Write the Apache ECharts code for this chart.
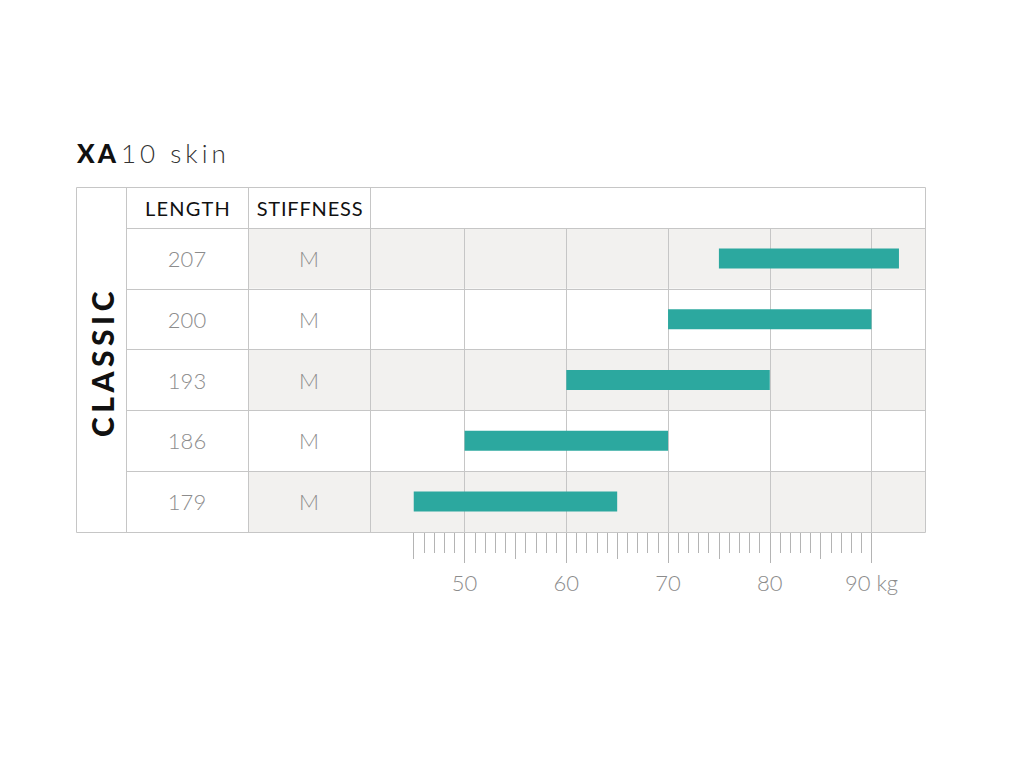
<!DOCTYPE html>
<html>
<head>
<meta charset="utf-8">
<script src="https://cdn.jsdelivr.net/npm/echarts@6/dist/echarts.min.js"></script>
<style>html,body{margin:0;padding:0;background:#fff}#c{width:1024px;height:768px}</style>
</head>
<body>
<div id="c"></div>
<script>
// ---- data ----
const lengths = ['207', '200', '193', '186', '179'];
const stiffness = ['M', 'M', 'M', 'M', 'M'];
const weightMin = [75, 70, 60, 50, 45];
const weightMax = [92.7, 90, 80, 70, 65];
const majorTicks = [50, 60, 70, 80, 90];
const midTicks = [45, 55, 65, 75, 85];
const minorTicks = [45,46,47,48,49,50,51,52,53,54,55,56,57,58,59,60,61,62,63,64,65,66,67,68,69,70,71,72,73,74,75,76,77,78,79,80,81,82,83,84,85,86,87,88,89,90];
const unit = 'kg';
const titleBold = 'XA';
const titleRest = '10 skin';
const groupName = 'CLASSIC';
const headers = ['LENGTH', 'STIFFNESS'];

const X_MIN = 40.7, X_MAX = 95.26;
const LINE = '#c6c6c6';
const SHADE = '#f2f1ef';
const FONT = 'Lato';

const chart = echarts.init(document.getElementById('c'), null, {renderer: 'svg'});

const gridTop = 228, gridBottom = 768 - 532;
const barData = lengths.map((l, i) => [weightMin[i], weightMax[i], i]);

function hiddenX(gi) {
  return {type: 'value', gridIndex: gi, show: false, min: 0, max: 1};
}
function sideY(gi, labels, shaded) {
  return {
    type: 'category', gridIndex: gi, data: lengths, inverse: true,
    axisLine: {show: true, lineStyle: {color: LINE}},
    axisTick: {show: false},
    axisLabel: {
      show: true, inside: true, margin: 61, align: 'center',
      formatter: (v, i) => labels[i],
      fontFamily: FONT, fontWeight: 300, fontSize: 22, color: '#8c8c8c'
    },
    splitLine: {show: true, lineStyle: {color: LINE}},
    splitArea: {show: shaded, areaStyle: {color: [SHADE, '#ffffff']}}
  };
}

const option = {
  animation: false,
  backgroundColor: '#ffffff',
  grid: [
    {left: 370, top: gridTop, width: 555, bottom: gridBottom, containLabel: false},
    {left: 248, top: gridTop, width: 122, bottom: gridBottom, containLabel: false},
    {left: 126, top: gridTop, width: 122, bottom: gridBottom, containLabel: false}
  ],
  xAxis: [
    {
      type: 'value', gridIndex: 0, min: X_MIN, max: X_MAX, position: 'bottom',
      axisLine: {show: false},
      axisTick: {show: true, customValues: majorTicks, length: 31, lineStyle: {color: '#b4b4b4'}},
      axisLabel: {
        show: true, customValues: majorTicks, margin: 39,
        formatter: v => (v === majorTicks[majorTicks.length - 1] ? v + ' ' + unit : String(v)),
        fontFamily: FONT, fontWeight: 300, fontSize: 22, color: '#8c8c8c'
      },
      splitLine: {show: true, lineStyle: {color: LINE}}
    },
    {
      type: 'value', gridIndex: 0, min: X_MIN, max: X_MAX, position: 'bottom',
      axisLine: {show: false},
      axisTick: {show: true, customValues: minorTicks, length: 21, lineStyle: {color: '#b4b4b4'}},
      axisLabel: {show: false}, splitLine: {show: false}
    },
    {
      type: 'value', gridIndex: 0, min: X_MIN, max: X_MAX, position: 'bottom',
      axisLine: {show: false},
      axisTick: {show: true, customValues: midTicks, length: 27, lineStyle: {color: '#b4b4b4'}},
      axisLabel: {show: false}, splitLine: {show: false}
    },
    hiddenX(1),
    hiddenX(2)
  ],
  yAxis: [
    {
      type: 'category', gridIndex: 0, data: lengths, inverse: true,
      axisLine: {show: true, lineStyle: {color: LINE}},
      axisTick: {show: false}, axisLabel: {show: false},
      splitLine: {show: true, lineStyle: {color: LINE}},
      splitArea: {show: true, areaStyle: {color: [SHADE, '#ffffff']}}
    },
    sideY(1, stiffness, true),
    sideY(2, lengths, false)
  ],
  series: [{
    type: 'custom', xAxisIndex: 0, yAxisIndex: 0, data: barData,
    renderItem: (params, api) => {
      const p0 = api.coord([api.value(0), api.value(2)]);
      const p1 = api.coord([api.value(1), api.value(2)]);
      const h = 20;
      return {
        type: 'rect',
        shape: {x: p0[0], y: p0[1] - h / 2, width: p1[0] - p0[0], height: h},
        style: {fill: '#2ca89f'}
      };
    }
  }],
  graphic: [
    {type: 'rect', silent: true, z: 100, shape: {x: 76.5, y: 187.5, width: 849, height: 345},
      style: {fill: 'none', stroke: LINE, lineWidth: 1}},
    {type: 'line', silent: true, z: 100, shape: {x1: 126.5, y1: 187, x2: 126.5, y2: 532}, style: {stroke: LINE, lineWidth: 1}},
    {type: 'line', silent: true, z: 100, shape: {x1: 248.5, y1: 187, x2: 248.5, y2: 532}, style: {stroke: LINE, lineWidth: 1}},
    {type: 'line', silent: true, z: 100, shape: {x1: 370.5, y1: 187, x2: 370.5, y2: 532}, style: {stroke: LINE, lineWidth: 1}},
    {type: 'line', silent: true, z: 100, shape: {x1: 126, y1: 228.5, x2: 925, y2: 228.5}, style: {stroke: LINE, lineWidth: 1}},
    {type: 'text', silent: true, z: 100, x: 188, y: 208,
      style: {text: headers[0], fontFamily: FONT, fontWeight: 400, fontSize: 20, fill: '#111', align: 'center', verticalAlign: 'middle'}},
    {type: 'text', silent: true, z: 100, x: 310, y: 208,
      style: {text: headers[1], fontFamily: FONT, fontWeight: 400, fontSize: 20, fill: '#111', align: 'center', verticalAlign: 'middle'}},
    {type: 'text', silent: true, z: 100, x: 102, y: 362, rotation: Math.PI / 2,
      style: {text: groupName, fontFamily: FONT, fontWeight: 900, fontSize: 30, fill: '#111', align: 'center', verticalAlign: 'middle'}},
    {type: 'text', silent: true, z: 100, x: 77, y: 153,
      style: {text: titleBold, fontFamily: FONT, fontWeight: 900, fontSize: 26, fill: '#111', align: 'left', verticalAlign: 'middle'}},
    {type: 'text', silent: true, z: 100, x: 121, y: 153,
      style: {text: titleRest, fontFamily: FONT, fontWeight: 300, fontSize: 26, fill: '#333', align: 'left', verticalAlign: 'middle'}}
  ]
};

const spacing = {};
spacing[groupName] = '4.5px';
spacing[titleBold] = '3px';
spacing[titleRest] = '4px';
spacing[headers[0]] = '1.2px';
spacing[headers[1]] = '0.8px';

function applySpacing() {
  const texts = document.querySelectorAll('#c svg text');
  texts.forEach(t => {
    const s = spacing[t.textContent];
    if (s) t.style.letterSpacing = s;
  });
}
chart.on('finished', applySpacing);
chart.setOption(option);
applySpacing();
setTimeout(applySpacing, 50);
</script>
</body>
</html>
